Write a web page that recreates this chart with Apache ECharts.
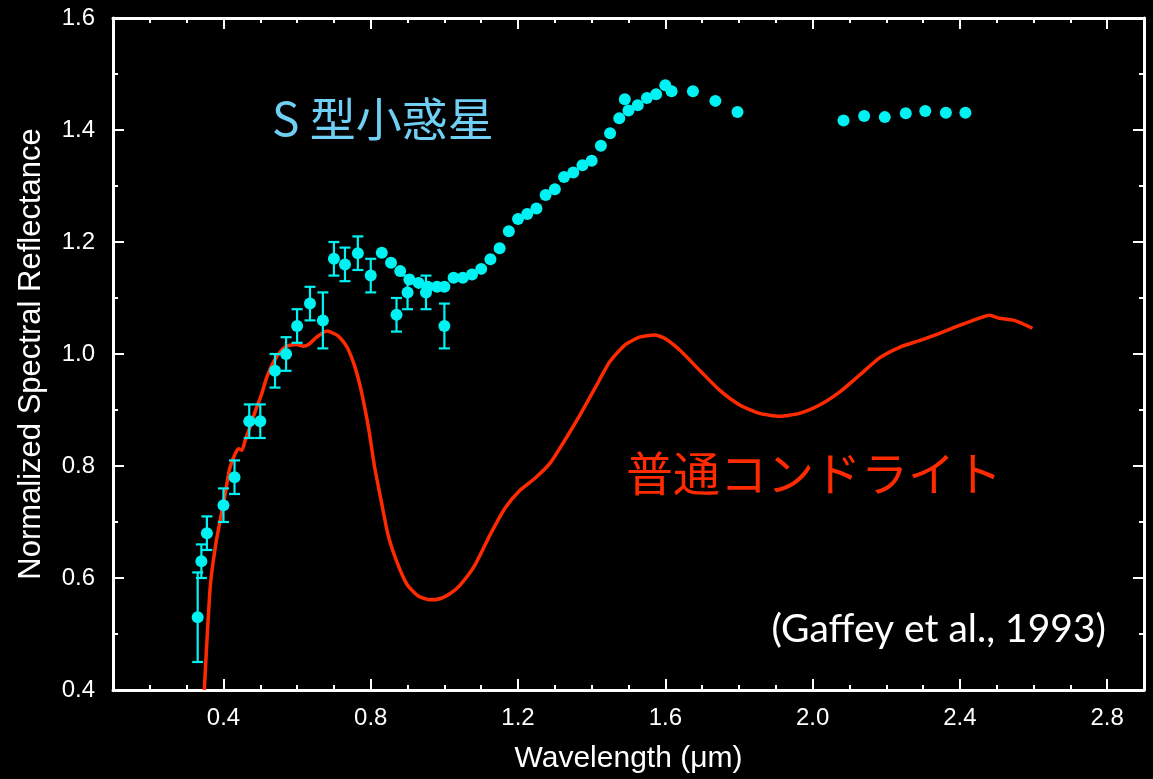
<!DOCTYPE html>
<html>
<head>
<meta charset="utf-8">
<script src="https://cdn.jsdelivr.net/npm/echarts@6/dist/echarts.min.js"></script>
<style>
  html, body { margin: 0; padding: 0; background: #000; }
  #_chart { width: 1153px; height: 779px; }
</style>
</head>
<body>
<div id="_chart"></div>
<script>
// S-type asteroid, points with error bars (visible)
var visX   = [0.33, 0.34, 0.355, 0.40, 0.43, 0.47, 0.50, 0.54, 0.57, 0.60, 0.635, 0.67, 0.70, 0.73, 0.765, 0.80, 0.87, 0.90, 0.95, 1.00];
var visY   = [0.53, 0.63, 0.68, 0.73, 0.78, 0.88, 0.88, 0.97, 1.00, 1.05, 1.09, 1.06, 1.17, 1.16, 1.18, 1.14, 1.07, 1.11, 1.11, 1.05];
var visErr = [0.08, 0.03, 0.03, 0.03, 0.03, 0.03, 0.03, 0.03, 0.03, 0.03, 0.03, 0.05, 0.03, 0.03, 0.03, 0.03, 0.03, 0.03, 0.03, 0.04];

// S-type asteroid, near-IR points (no error bars)
var irX = [0.83, 0.855, 0.88, 0.905, 0.93, 0.955, 0.98, 1.00, 1.025, 1.05, 1.075, 1.10, 1.125, 1.15, 1.175, 1.20,
           1.225, 1.25, 1.275, 1.30, 1.325, 1.35, 1.375, 1.40, 1.425, 1.45, 1.475, 1.49, 1.50, 1.525, 1.55, 1.575,
           1.60, 1.617, 1.675, 1.736, 1.796, 2.084, 2.14, 2.196, 2.253, 2.306, 2.362, 2.415];
var irY = [1.181, 1.163, 1.148, 1.133, 1.127, 1.12, 1.12, 1.12, 1.136, 1.136, 1.142, 1.152, 1.169, 1.189, 1.219, 1.241,
           1.25, 1.26, 1.284, 1.294, 1.316, 1.324, 1.337, 1.345, 1.372, 1.394, 1.421, 1.455, 1.435, 1.444, 1.457, 1.464,
           1.48, 1.469, 1.469, 1.452, 1.432, 1.417, 1.425, 1.423, 1.430, 1.434, 1.431, 1.431];

// ordinary chondrite spectrum
var ocX = [0.348, 0.364, 0.378, 0.391, 0.405, 0.416, 0.432, 0.441, 0.45, 0.459, 0.472, 0.486, 0.504, 0.518, 0.536, 0.554,
           0.572, 0.599, 0.617, 0.631, 0.653, 0.681, 0.712, 0.735, 0.757, 0.776, 0.795, 0.81, 0.828, 0.847, 0.872, 0.899,
           0.929, 0.961, 0.988, 1.015, 1.042, 1.083, 1.124, 1.165, 1.206, 1.246, 1.287, 1.327, 1.368, 1.409, 1.449, 1.49,
           1.53, 1.571, 1.598, 1.639, 1.693, 1.748, 1.802, 1.856, 1.91, 1.964, 2.019, 2.073, 2.127, 2.182, 2.236, 2.29,
           2.345, 2.399, 2.453, 2.48, 2.507, 2.548, 2.597];
var ocY = [0.40, 0.584, 0.656, 0.703, 0.751, 0.793, 0.822, 0.831, 0.828, 0.846, 0.870, 0.897, 0.929, 0.959, 0.986, 1.004,
           1.014, 1.017, 1.014, 1.017, 1.030, 1.041, 1.032, 1.013, 0.977, 0.929, 0.864, 0.80, 0.739, 0.677, 0.627, 0.588,
           0.568, 0.561, 0.563, 0.572, 0.587, 0.623, 0.677, 0.725, 0.757, 0.778, 0.805, 0.846, 0.891, 0.939, 0.986, 1.016,
           1.030, 1.034, 1.028, 1.007, 0.971, 0.935, 0.909, 0.894, 0.889, 0.894, 0.909, 0.932, 0.962, 0.993, 1.012, 1.024,
           1.037, 1.051, 1.064, 1.069, 1.064, 1.06, 1.046];

var xTickLabels = ['0.4', '0.8', '1.2', '1.6', '2.0', '2.4', '2.8'];
var yTickLabels = ['0.4', '0.6', '0.8', '1.0', '1.2', '1.4', '1.6'];

var cyan = '#00f2f2';
var red = '#ff2a00';
var white = '#ffffff';

function zip(xs, ys) {
    var out = [];
    for (var i = 0; i < xs.length; i++) out.push([xs[i], ys[i]]);
    return out;
}

var errData = [];
for (var i = 0; i < visX.length; i++) {
    errData.push([visX[i], visY[i] - visErr[i], visY[i] + visErr[i]]);
}

var chart = echarts.init(document.getElementById('_chart'));

function minorX(pos) {
    return {
        type: 'value', position: pos, min: 0.1, max: 2.9, interval: 0.1,
        axisLine: { show: true, lineStyle: { color: white, width: 3 } },
        axisTick: { show: true, inside: true, length: 5, lineStyle: { color: white, width: 2 } },
        axisLabel: {
            show: pos === 'bottom', color: white, fontSize: 24, fontFamily: 'Liberation Sans', margin: 16,
            formatter: function (v) {
                var s = v.toFixed(1);
                return xTickLabels.indexOf(s) >= 0 ? s : '';
            }
        },
        splitLine: { show: false }
    };
}
function majorX(pos) {
    return {
        type: 'value', position: pos, min: 0.1, max: 2.9, splitNumber: 7,
        minInterval: 0.4, maxInterval: 0.4,
        axisLine: { show: false },
        axisTick: { show: true, inside: true, length: 11, lineStyle: { color: white, width: 2 } },
        axisLabel: { show: false },
        splitLine: { show: false }
    };
}
function yAx(pos) {
    return {
        type: 'value', position: pos, min: 0.4, max: 1.6, interval: 0.2,
        axisLine: { show: true, lineStyle: { color: white, width: 3 } },
        axisTick: { show: true, inside: true, length: 11, lineStyle: { color: white, width: 2 } },
        minorTick: { show: true, splitNumber: 2, length: 5, lineStyle: { color: white, width: 2 } },
        axisLabel: {
            show: pos === 'left', color: white, fontSize: 24, fontFamily: 'Liberation Sans', margin: 18,
            formatter: function (v) {
                var s = v.toFixed(1);
                return yTickLabels.indexOf(s) >= 0 ? s : '';
            }
        },
        splitLine: { show: false },
        minorSplitLine: { show: false }
    };
}

var xBottom = minorX('bottom');
xBottom.name = 'Wavelength (\u03bcm)';
xBottom.nameLocation = 'middle';
xBottom.nameGap = 54;
xBottom.nameTextStyle = { color: white, fontSize: 30, fontFamily: 'Liberation Sans' };

var yLeft = yAx('left');
yLeft.name = 'Normalized Spectral Reflectance';
yLeft.nameLocation = 'middle';
yLeft.nameGap = 66;
yLeft.nameTextStyle = { color: white, fontSize: 31, fontFamily: 'Liberation Sans' };

var option = {
    backgroundColor: '#000',
    animation: false,
    grid: { left: 113, right: 9, top: 18, bottom: 89, outerBoundsMode: 'none' },
    xAxis: [xBottom, majorX('bottom'), minorX('top'), majorX('top')],
    yAxis: [yLeft, yAx('right')],
    graphic: [
        { type: 'text', left: 272, top: 96,
          style: { text: 'S 型小惑星', fill: '#6fcff5', fontSize: 46, fontFamily: 'Noto Sans CJK JP' } },
        { type: 'text', left: 626, top: 450,
          style: { text: '普通コンドライト', fill: red, fontSize: 47, fontFamily: 'Noto Sans CJK JP' } },
        { type: 'text', right: 47, top: 610,
          style: { text: '(Gaffey et al., 1993)', fill: white, fontSize: 39, fontFamily: 'Lato' } }
    ],
    series: [
        {
            name: 'chondrite', type: 'line', xAxisIndex: 0, yAxisIndex: 0,
            data: zip(ocX, ocY), showSymbol: false, smooth: 0.2,
            lineStyle: { color: red, width: 3.5 }, z: 2
        },
        {
            name: 'errbar', type: 'custom', xAxisIndex: 0, yAxisIndex: 0, z: 3,
            data: errData,
            renderItem: function (params, api) {
                var lo = api.coord([api.value(0), api.value(1)]);
                var hi = api.coord([api.value(0), api.value(2)]);
                var w = 5.5;
                var st = { stroke: cyan, lineWidth: 2.2 };
                return {
                    type: 'group',
                    children: [
                        { type: 'line', shape: { x1: lo[0], y1: lo[1], x2: hi[0], y2: hi[1] }, style: st },
                        { type: 'line', shape: { x1: lo[0] - w, y1: lo[1], x2: lo[0] + w, y2: lo[1] }, style: st },
                        { type: 'line', shape: { x1: hi[0] - w, y1: hi[1], x2: hi[0] + w, y2: hi[1] }, style: st }
                    ]
                };
            }
        },
        {
            name: 'vis', type: 'scatter', xAxisIndex: 0, yAxisIndex: 0, z: 4,
            data: zip(visX, visY), symbolSize: 12, itemStyle: { color: cyan, opacity: 1 }
        },
        {
            name: 'ir', type: 'scatter', xAxisIndex: 0, yAxisIndex: 0, z: 4,
            data: zip(irX, irY), symbolSize: 12, itemStyle: { color: cyan, opacity: 1 }
        }
    ]
};
chart.setOption(option);
</script>
</body>
</html>
